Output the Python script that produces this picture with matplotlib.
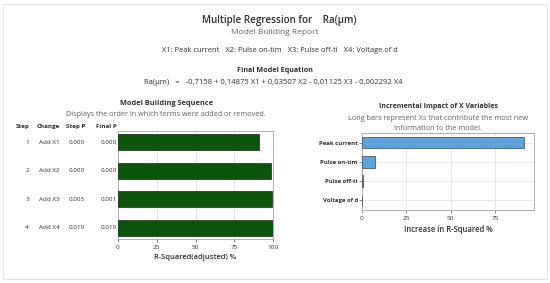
import matplotlib.pyplot as plt
from matplotlib.patches import Rectangle

plt.rcParams['font.family'] = ['Open Sans', 'DejaVu Sans']

# model building sequence
steps = ['1', '2', '3', '4']
changes = ['Add X1', 'Add X2', 'Add X3', 'Add X4']
step_p = ['0.000', '0.000', '0.005', '0.019']
final_p = ['0.000', '0.000', '0.001', '0.019']
r2_adj = [91.0, 98.9, 99.6, 99.7]

# incremental impact
variables = ['Peak current', 'Pulse on-tim', 'Pulse off-ti', 'Voltage of d']
increase = [91.2, 7.2, 0.4, 0.1]

W, H = 550, 283


def fx(x):
    return x / W


def fy(y):
    return 1 - y / H


fig = plt.figure(figsize=(5.5, 2.83), dpi=100)
fig.patches.append(Rectangle((fx(3), fy(279)), fx(544), 275 / H, transform=fig.transFigure,
                             fill=False, edgecolor='#e6e6e6', linewidth=0.8))

dark = '#303030'
grey = '#606060'

# header texts
fig.text(fx(279), fy(20), 'Multiple Regression for    Ra(μm)', ha='center', va='center',
         fontsize=7.1, color=dark, fontweight='semibold')
fig.text(fx(275), fy(32), 'Model Building Report', ha='center', va='center', fontsize=6.0, color=grey)
fig.text(fx(280), fy(50), 'X1: Peak current   X2: Pulse on-tim   X3: Pulse off-ti   X4: Voltage of d',
         ha='center', va='center', fontsize=5.4, color=dark)
fig.text(fx(275), fy(71), 'Final Model Equation', ha='center', va='center', fontsize=5.2,
         color=dark, fontweight='bold')
fig.text(fx(273), fy(83), 'Ra(μm)   =   -0,7158 + 0,14875 X1 + 0,03507 X2 - 0,01125 X3 - 0,002292 X4',
         ha='center', va='center', fontsize=5.5, color=dark)

# left panel
ax1 = fig.add_axes([fx(118), fy(239), 155 / W, 108 / H])
ax1.barh(range(len(r2_adj)), r2_adj, height=0.56, color='#0b540b', edgecolor='#1a2a1a',
         linewidth=0.5, zorder=3)
ax1.set_xlim(0, 100)
ax1.set_ylim(3.4, -0.4)
ax1.set_yticks([])
ax1.set_xticks([0, 25, 50, 75, 100])
ax1.tick_params(axis='x', labelsize=4.6, length=2, width=0.5, colors='#555555', labelcolor=dark, pad=2)
ax1.grid(axis='x', color='#dddddd', linewidth=0.6, zorder=0)
for s in ax1.spines.values():
    s.set_color('#b0b0b0')
    s.set_linewidth(0.7)
ax1.set_xlabel('R-Squared(adjusted) %', fontsize=5.4, color=dark, labelpad=3, fontweight='semibold')

fig.text(fx(166), fy(104), 'Model Building Sequence', ha='center', va='center', fontsize=5.3,
         color=dark, fontweight='bold')
fig.text(fx(166), fy(115), 'Displays the order in which terms were added or removed.', ha='center',
         va='center', fontsize=5.25, color=grey)

cols_x = [23, 48, 76, 106]
for x, h in zip(cols_x, ['Step', 'Change', 'Step P', 'Final P']):
    fig.text(fx(x), fy(126), h, ha='center', va='center', fontsize=4.5, color=dark, fontweight='bold')

tr = ax1.get_yaxis_transform()
for i in range(len(steps)):
    ax1.text((29 - 118) / 155, i, steps[i], ha='right', va='center', fontsize=4.5, color=dark, transform=tr)
    ax1.text((49 - 118) / 155, i, changes[i], ha='center', va='center', fontsize=4.5, color=dark, transform=tr)
    ax1.text((77 - 118) / 155, i, step_p[i], ha='center', va='center', fontsize=4.5, color=dark, transform=tr)
    ax1.text((117 - 118) / 155, i, final_p[i], ha='right', va='center', fontsize=4.5, color=dark, transform=tr)

# right panel
ax2 = fig.add_axes([fx(362), fy(210), 172 / W, 77 / H])
ax2.barh(variables, increase, height=0.6, color='#5ea2dc', edgecolor='#3a4a5a', linewidth=0.5, zorder=3)
ax2.set_xlim(0, 97)
ax2.set_ylim(3.5, -0.5)
ax2.set_xticks([0, 25, 50, 75])
ax2.tick_params(axis='x', labelsize=4.6, length=2, width=0.5, colors='#555555', labelcolor=dark, pad=2)
ax2.tick_params(axis='y', labelsize=4.3, length=2, width=0.5, colors='#555555', labelcolor=dark, pad=1)
for lab in ax2.get_yticklabels():
    lab.set_fontweight('bold')
ax2.grid(color='#e4e4e4', linewidth=0.6, zorder=0)
for s in ax2.spines.values():
    s.set_color('#b0b0b0')
    s.set_linewidth(0.7)
ax2.set_xlabel('Increase in R-Squared %', fontsize=5.5, color=dark, labelpad=3, fontweight='semibold')

fig.text(fx(438), fy(107), 'Incremental Impact of X Variables', ha='center', va='center', fontsize=5.0,
         color=dark, fontweight='bold')
fig.text(fx(438), fy(118), 'Long bars represent Xs that contribute the most new', ha='center',
         va='center', fontsize=5.25, color=grey)
fig.text(fx(438), fy(128), 'information to the model.', ha='center', va='center', fontsize=5.25, color=grey)

fig.savefig('out.png', dpi=100, facecolor='white')
